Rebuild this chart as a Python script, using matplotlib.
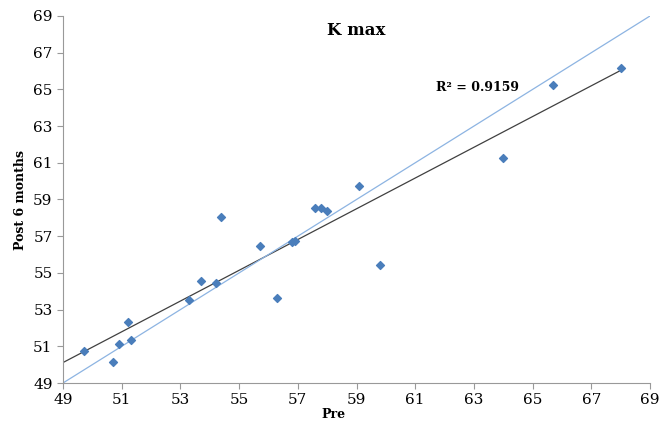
import numpy as np
import matplotlib.pyplot as plt

pre = [49.7, 50.7, 50.9, 51.2, 51.3, 53.3, 53.7, 54.2, 54.4, 55.7, 56.3,
       56.8, 56.9, 57.6, 57.8, 58.0, 59.1, 59.8, 64.0, 65.7, 68.0]
post = [50.75, 50.15, 51.15, 52.35, 51.35, 53.55, 54.55, 54.45, 58.05, 56.45, 53.65,
        56.7, 56.75, 58.55, 58.55, 58.35, 59.75, 55.45, 61.25, 65.25, 66.15]
ticks = list(range(49, 70, 2))
r2_label = "R² = 0.9159"

plt.rcParams['font.family'] = ['DejaVu Serif']

fig = plt.figure(figsize=(6.65, 4.23), dpi=100)
ax = fig.add_axes([63/665, 1-383/423, (650-63)/665, (383-16)/423])

# trend line and y = x line
k, b = np.polyfit(pre, post, 1)
xt = np.array([49, max(pre)])
ax.plot(xt, k*xt + b, color='#404040', lw=0.9)
ax.plot([49, 69], [49, 69], color='#8db4e2', lw=0.9)
ax.scatter(pre, post, marker='D', s=16, color='#4a7ebb', zorder=3)

ax.set_xlim(49, 69)
ax.set_ylim(49, 69)
ax.set_xticks(ticks)
ax.set_yticks(ticks)
ax.tick_params(labelsize=11, color='#999999', length=4)
for s in ['top', 'right']:
    ax.spines[s].set_visible(False)
for s in ['left', 'bottom']:
    ax.spines[s].set_color('#999999')

ax.set_xlabel('Pre', fontsize=9, fontweight='bold')
ax.set_ylabel('Post 6 months', fontsize=9, fontweight='bold')
ax.xaxis.set_label_coords(0.46, -0.068)
ax.yaxis.set_label_coords(-0.062, 0.5)
ax.text(0.5, 0.985, 'K max', transform=ax.transAxes, ha='center', va='top',
        fontsize=12, fontweight='bold')
ax.text(61.7, 65.1, r2_label, fontsize=9, fontweight='bold', va='center')

fig.savefig('out.png')
